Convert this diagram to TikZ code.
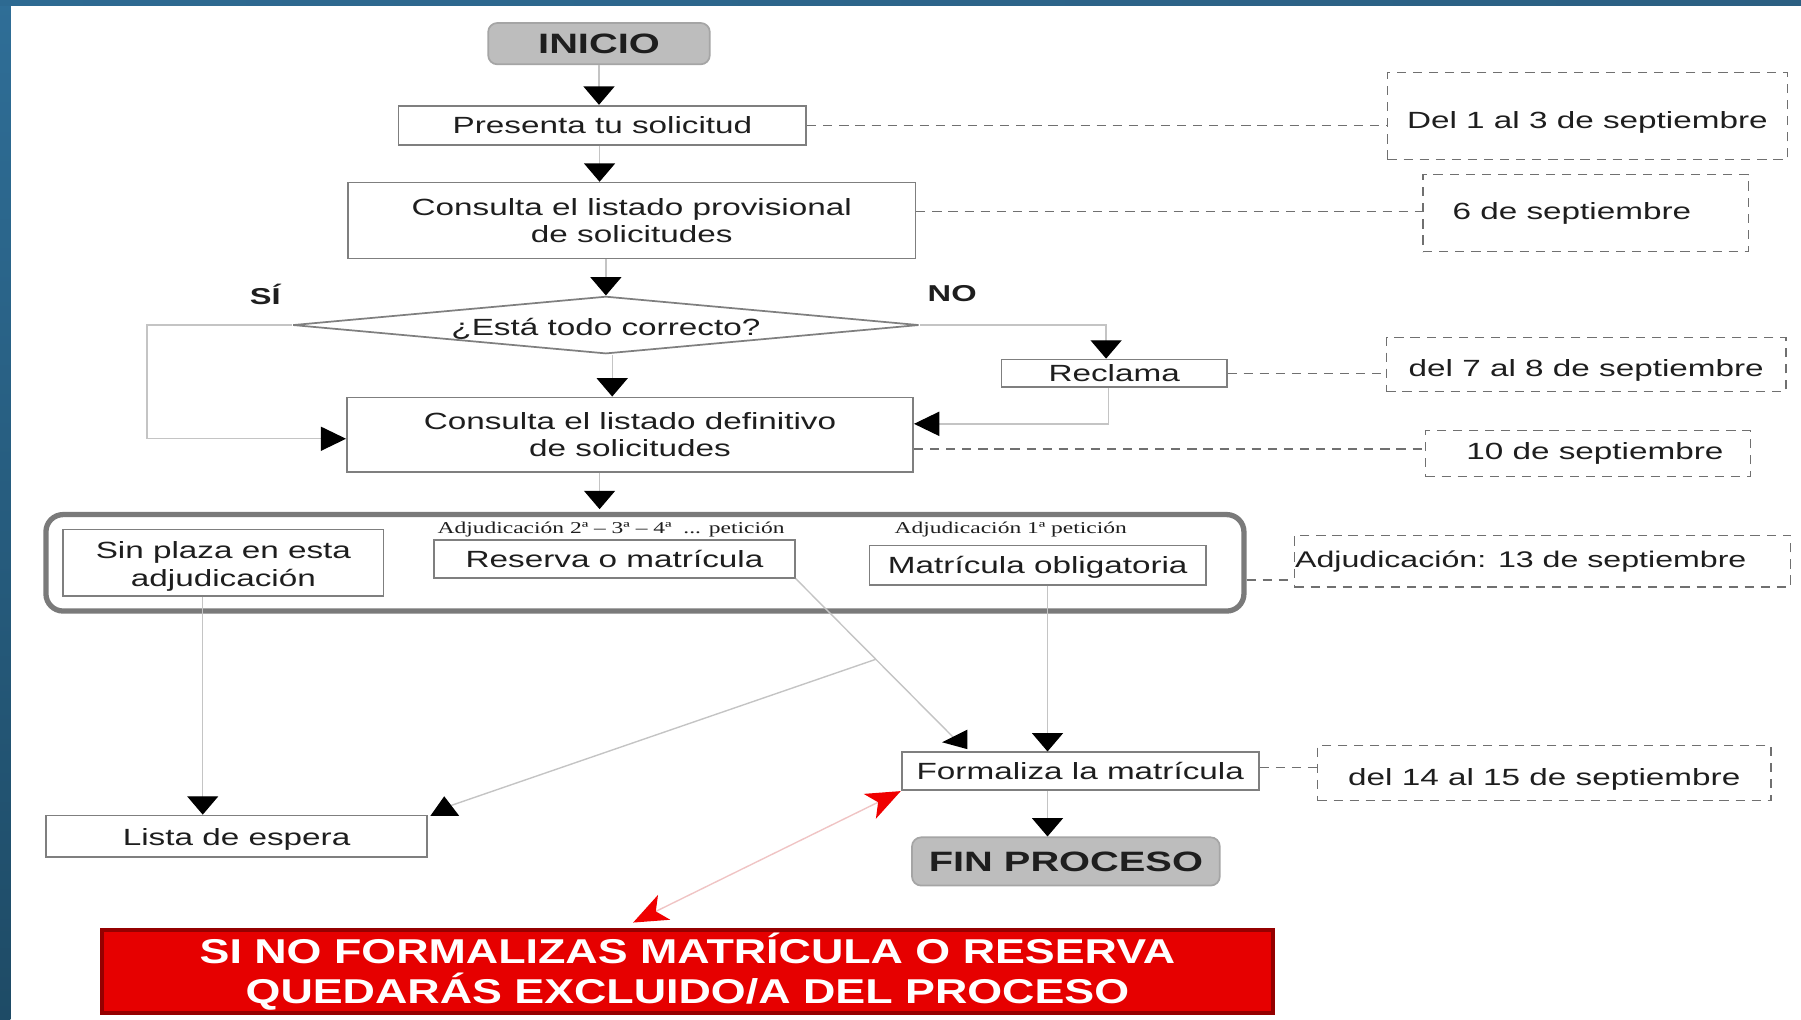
\documentclass[tikz,border=0pt]{standalone}
\usepackage{fontspec}
\setmainfont{Liberation Sans}[FakeStretch=1.42]
\newfontfamily\srs{Liberation Serif}[FakeStretch=1.42]
\newfontfamily\redf{Liberation Sans}[FakeStretch=1.3]
\usetikzlibrary{shapes.geometric,arrows.meta,calc}
\newcommand{\lowerby}[2]{\raisebox{-#1}[\height][\depth]{#2}}
\definecolor{boxline}{HTML}{7F7F7F}
\definecolor{txt}{HTML}{1E1E1E}
\definecolor{termfill}{HTML}{BDBDBD}
\definecolor{termline}{HTML}{A5A5A5}
\definecolor{dashc}{HTML}{707070}
\definecolor{linec}{HTML}{C4C4C4}
\definecolor{grpc}{HTML}{7A7A7A}
\definecolor{redfill}{HTML}{E60000}
\definecolor{redline}{HTML}{950000}
\definecolor{redarr}{HTML}{F00000}
\definecolor{pinkline}{HTML}{F0C4C4}
\definecolor{stripA}{HTML}{2D6A92}
\definecolor{stripB}{HTML}{4699CE}
\definecolor{stripC}{HTML}{2B5F82}
\definecolor{leftA}{HTML}{2F6E97}
\definecolor{leftB}{HTML}{1E4B66}
\begin{document}
\begin{tikzpicture}[x=0.5pt,y=-0.5pt,
  box/.style={draw=boxline, line width=0.75pt, fill=white, inner sep=0pt, text=txt,
    align=center, font=\fontsize{10.2}{12}\selectfont},
  term/.style={draw=termline, fill=termfill, rounded corners=4pt, line width=0.75pt,
    inner sep=0pt, text=txt, font=\fontsize{12.2}{14}\selectfont\bfseries},
  datebox/.style={draw=dashc, dash pattern=on 4pt off 3pt, line width=0.6pt, inner sep=0pt,
    text=txt, font=\fontsize{10.2}{12}\selectfont},
  dashlink/.style={draw=dashc, dash pattern=on 4pt off 3pt, line width=0.6pt},
  conn/.style={draw=linec, line width=0.6pt},
  av/.style={conn, -{Triangle[width=13.5pt,length=8pt,color=black]}},
  ah/.style={conn, -{Triangle[width=10.5pt,length=11pt,color=black]}},
  small/.style={inner sep=0pt, text=txt, font=\srs\fontsize{7.2}{8}\selectfont},
  yn/.style={inner sep=0pt, text=txt, font=\fontsize{10}{12}\selectfont\bfseries}
]
\useasboundingbox (0,0) rectangle (1568,888);
\fill[white] (0,0) rectangle (1568,888);
\shade[top color=leftA, bottom color=leftB] (0,0) rectangle (9,888);
\shade[left color=stripA, middle color=stripB, right color=stripC] (0,0) rectangle (1568,4.5);

% main flow
\node[term, minimum width=96.5pt, minimum height=18pt] (inicio) at (521.5,38) {INICIO};
\node[box, minimum width=177.5pt, minimum height=17pt] (pres) at (524.5,109) {Presenta tu solicitud};
\node[box, minimum width=247pt, minimum height=33pt] (prov) at (550,192) {Consulta el listado provisional\\de solicitudes};
\node[diamond, draw=boxline, line width=0.75pt, fill=white, inner sep=0pt, shape aspect=10.9,
  minimum width=272.5pt, minimum height=25pt, text=txt, font=\fontsize{10.2}{12}\selectfont]
  (dia) at (527.5,283) {\lowerby{1.5pt}{¿Está todo correcto?}};
\node[yn] (si) at (231,256) {SÍ};
\node[yn] (no) at (829,256) {NO};
\node[box, minimum width=98pt, minimum height=12pt] (recl) at (970,325) {Reclama};
\node[box, minimum width=246.5pt, minimum height=32.5pt] (def) at (548.5,378.5) {Consulta el listado definitivo\\de solicitudes};

% adjudication group
\node[draw=grpc, line width=2.3pt, rounded corners=7.5pt, inner sep=0pt,
  minimum width=521.5pt, minimum height=42pt] (grp) at (561.5,490) {};
\node[box, minimum width=139.5pt, minimum height=29pt] (sin) at (194.5,490) {\lowerby{1.5pt}{Sin plaza en esta}\\\lowerby{1.5pt}{adjudicación}};
\node[small] (lab1) at (532,461) {Adjudicación 2ª – 3ª – 4ª\ \ ... petición};
\node[box, minimum width=157pt, minimum height=16.5pt] (res) at (535,486.5) {Reserva o matrícula};
\node[small] (lab2) at (880,461) {Adjudicación 1ª petición};
\node[box, minimum width=146.5pt, minimum height=17pt] (mat) at (903.5,492) {\lowerby{1pt}{Matrícula obligatoria}};

% bottom
\node[box, minimum width=166pt, minimum height=18pt] (lista) at (206,728) {\lowerby{1.5pt}{Lista de espera}};
\node[box, minimum width=155.5pt, minimum height=16.5pt] (form) at (940.5,671.5) {Formaliza la matrícula};
\node[term, minimum width=134pt, minimum height=21pt] (fin) at (928,750) {FIN PROCESO};
\node[draw=redline, fill=redfill, line width=1.8pt, inner sep=0pt, minimum width=509.5pt,
  minimum height=36pt, align=center, text=white,
  font=\redf\fontsize{15}{17.5}\selectfont\bfseries]
  (red) at (598.5,846) {SI NO FORMALIZAS MATRÍCULA O RESERVA\\QUEDARÁS EXCLUIDO/A DEL PROCESO};

% date boxes
\node[datebox, minimum width=174pt, minimum height=38pt] (d1) at (1382,101) {\lowerby{3pt}{Del 1 al 3 de septiembre}};
\node[datebox, minimum width=141.5pt, minimum height=33.5pt] (d2) at (1380.5,185.5) {\hspace*{-12pt}6 de septiembre};
\node[datebox, minimum width=174pt, minimum height=23.5pt] (d3) at (1381,317.5) {\lowerby{2.5pt}{del 7 al 8 de septiembre}};
\node[datebox, minimum width=141.5pt, minimum height=20pt] (d4) at (1382.5,395) {\hspace*{6pt}10 de septiembre};
\node[datebox, minimum width=216pt, minimum height=22.5pt, font=\fontsize{9.85}{12}\selectfont] (d5) at (1343,488.5) {Adjudicación: 13 de septiembre\hspace*{19pt}};
\node[datebox, minimum width=197.5pt, minimum height=24pt] (d6) at (1344.5,673) {\lowerby{3pt}{del 14 al 15 de septiembre}};

% connectors main flow
\draw[av] (inicio.south) -- (inicio.south |- pres.north);
\coordinate (a2) at ($(pres.south)+(-2.5,0)$);
\draw[av] (a2) -- (a2 |- prov.north);
\draw[av] (dia.north |- prov.south) -- (dia.north);
\coordinate (a4) at ($(dia.south)+(5.5,0)$);
\draw[av] (a4) -- (a4 |- def.north);
\coordinate (a5) at ($(def.south)+(-26.5,0)$);
\draw[av, shorten >=1.2pt] (a5) -- (a5 |- grp.north);
\coordinate (lk) at (128,283);
\coordinate (dl) at ($(def.west)+(0,3.5)$);
\draw[ah] (dia.west) -- (lk) |- (dl);
\coordinate (rk) at ($(recl.north)+(-7,0)$);
\draw[av] (dia.east) -| (rk);
\coordinate (rb) at ($(recl.south)+(-5,0)$);
\coordinate (dr) at ($(def.east)+(0,-9.5)$);
\draw[ah] (rb) |- (dr);

% lower connectors
\coordinate (sb) at ($(sin.south)+(-18,0)$);
\draw[av] (sb) -- (sb |- lista.north);
\coordinate (mb) at ($(mat.south)+(8.5,0)$);
\draw[av] (mb) -- (mb |- form.north);
\coordinate (fb) at ($(form.south)+(-28.5,0)$);
\draw[av] (fb) -- (fb |- fin.north);
\coordinate (fl) at ($(form.north west)+(50,-8)$);
\draw[conn] (res.south east) -- (fl);
\fill[black] ($(form.north west)+(58,-19)$) -- ($(form.north west)+(58,-2)$) -- ($(form.north west)+(36,-8)$) -- cycle;
\coordinate (jn) at ($(res.south east)!0.493!(fl)$);
\coordinate (le) at ($(lista.north east)+(20,-8)$);
\draw[conn] (jn) -- (le);
\fill[black] ($(lista.north east)+(14,-16)$) -- ($(lista.north east)+(2,1)$) -- ($(lista.north east)+(27,1)$) -- cycle;

% red double arrow
\coordinate (rt) at ($(red.north west)+(464,-5)$);
\draw[draw=pinkline, line width=0.6pt,
  {Stealth[length=15pt,width=12pt,inset=4pt,color=redarr]}-{Stealth[length=15pt,width=12pt,inset=4pt,color=redarr]}]
  (rt) -- (form.south west);

% dashed links to dates
\draw[dashlink] (pres.east) -- (pres.east -| d1.west);
\coordinate (pv) at ($(prov.east)+(0,-8)$);
\draw[dashlink] (pv) -- (pv -| d2.west);
\draw[dashlink] (recl.east) -- (recl.east -| d3.west);
\coordinate (dv) at ($(def.east)+(0,12.5)$);
\draw[dashlink] (dv) -- (dv -| d4.west);
\coordinate (gv) at ($(grp.east)+(0,15)$);
\draw[dashlink] (gv) -- (gv -| d5.west);
\coordinate (fv) at ($(form.east)+(0,-3.5)$);
\draw[dashlink] (fv) -- (fv -| d6.west);
\end{tikzpicture}
\end{document}
